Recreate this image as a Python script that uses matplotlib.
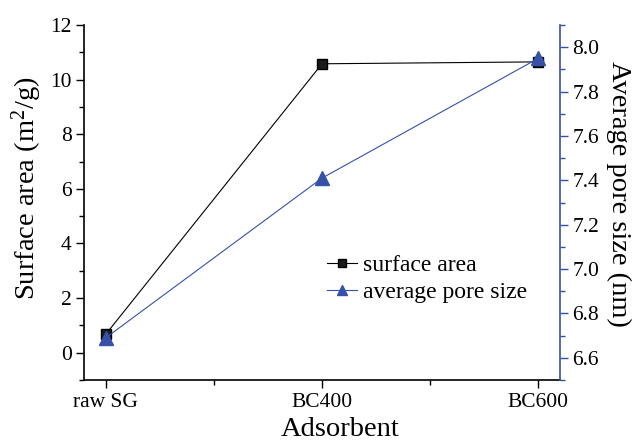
import numpy as np
import matplotlib
matplotlib.use('Agg')
import matplotlib.pyplot as plt
from matplotlib.ticker import MultipleLocator

plt.rcParams['font.family'] = 'Liberation Serif'
plt.rcParams['mathtext.fontset'] = 'custom'
plt.rcParams['mathtext.rm'] = 'Liberation Serif'

samples = ['raw SG', 'BC400', 'BC600']
surface_area = [0.67, 10.58, 10.65]
pore_size = [6.69, 7.41, 7.95]

blue = '#3652a8'
x = np.arange(len(samples))

fig = plt.figure(figsize=(6.34, 4.45), dpi=100)
ax = fig.add_axes([0.1325, 0.146, 0.7508, 0.7978])
ax2 = ax.twinx()

l1, = ax.plot(x, surface_area, color='black', linewidth=0.8, marker='s',
              markersize=7.5, markerfacecolor='#1a1a1a', label='surface area')
l2, = ax2.plot(x, pore_size, color=blue, linewidth=0.8, marker='^',
               markersize=9.5, label='average pore size')

ax.set_xlim(-0.1, 2.1)
ax.set_ylim(-1, 12)
ax2.set_ylim(6.5, 8.1)

ax.set_xticks(x)
ax.set_xticklabels(samples)
ax.xaxis.set_minor_locator(MultipleLocator(0.5))
ax.yaxis.set_major_locator(MultipleLocator(2))
ax.yaxis.set_minor_locator(MultipleLocator(1))
ax2.yaxis.set_major_locator(MultipleLocator(0.2))
ax2.yaxis.set_minor_locator(MultipleLocator(0.1))
ax2.yaxis.set_major_formatter(plt.FormatStrFormatter('%.1f'))

for a in (ax, ax2):
    a.spines['top'].set_visible(False)
ax.spines['right'].set_visible(False)
ax2.spines['left'].set_visible(False)
ax2.spines['bottom'].set_visible(False)
ax2.spines['right'].set_color(blue)
ax.spines['left'].set_linewidth(1.2)
ax.spines['bottom'].set_linewidth(1.2)
ax2.spines['right'].set_linewidth(1.2)

ax.tick_params(axis='both', which='major', direction='out', length=6, width=1,
               labelsize=15.5, pad=3)
ax.tick_params(axis='both', which='minor', direction='out', length=3.5, width=1)
ax2.tick_params(axis='y', which='major', direction='out', length=6, width=1,
                color=blue, labelsize=15.5, pad=3)
ax2.tick_params(axis='y', which='minor', direction='out', length=3.5, width=1,
                color=blue)

ax.set_xlabel('Adsorbent', fontsize=20.5)
ax.set_ylabel(r'Surface area (m$\mathregular{^2}$/g)', fontsize=20.5,
              rotation=90, ha='center', va='center', rotation_mode='anchor')
ax2.set_ylabel('Average pore size (nm)', fontsize=20.5, rotation=270,
               ha='center', va='center', rotation_mode='anchor')
ax.xaxis.set_label_coords(0.538, -0.105)
ax.yaxis.set_label_coords(-0.12, 0.54)
ax2.yaxis.set_label_coords(1.122, 0.524)

ax2.legend(handles=[l1, l2], loc='center left', bbox_to_anchor=(0.49, 0.285),
           frameon=False, fontsize=17, handlelength=1.3, handletextpad=0.25,
           labelspacing=0.25, markerscale=0.8, borderaxespad=0)

fig.savefig('out.png', dpi=100)
